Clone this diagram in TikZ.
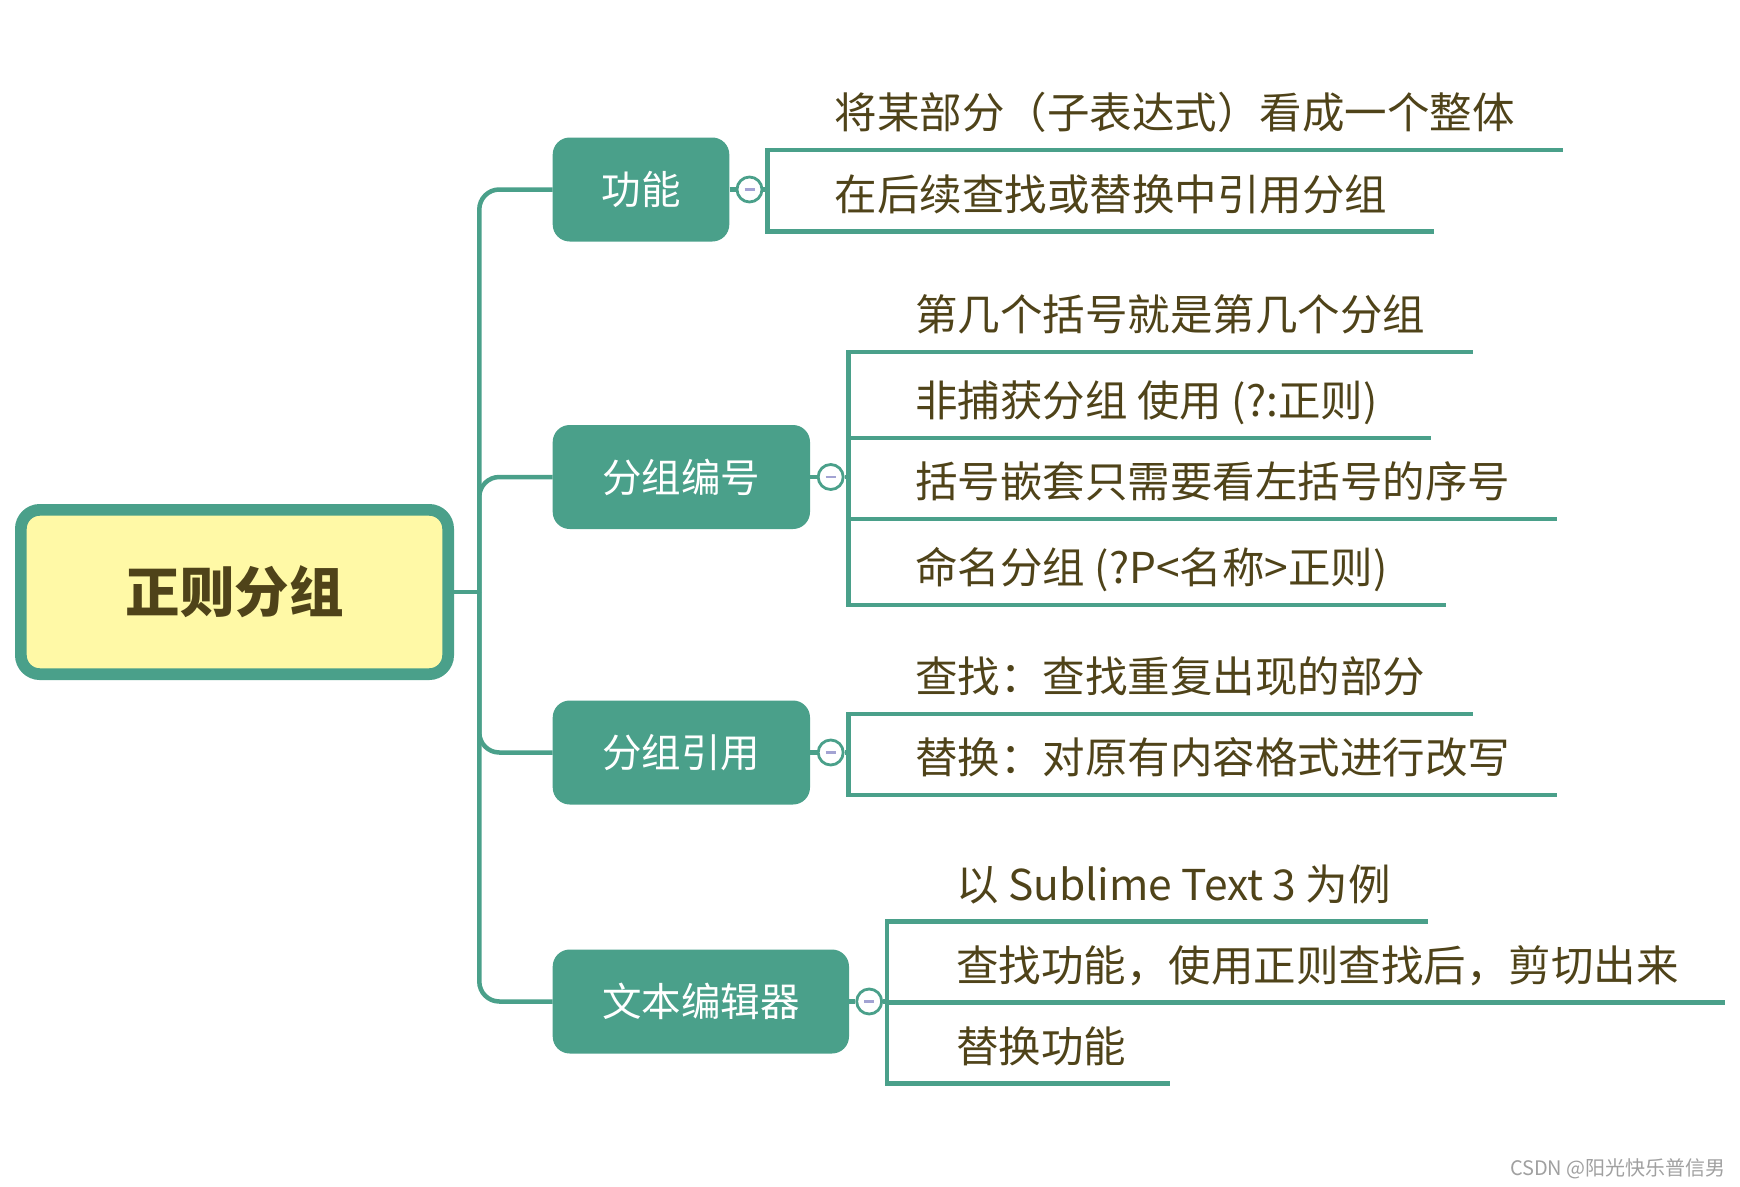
\documentclass[tikz,border=0pt]{standalone}
\usepackage{fontspec}
\setmainfont{Noto Sans CJK SC}
\definecolor{tealc}{HTML}{4AA08A}
\definecolor{inkc}{HTML}{4F4319}
\definecolor{rootfill}{HTML}{FFF9A6}
\definecolor{minusc}{HTML}{A3A3D3}
\definecolor{markc}{HTML}{A0A0A0}
\begin{document}
\begin{tikzpicture}[x=1pt,y=-1pt,
  rootbox/.style={draw=tealc, line width=11.7pt, fill=rootfill, rounded corners=19pt,
    minimum width=427.3pt, minimum height=164.3pt, inner sep=0pt, text=inkc,
    font=\fontsize{54.5}{60}\selectfont\bfseries},
  topic/.style={fill=tealc, rounded corners=17pt, minimum height=104pt, inner sep=0pt,
    text=white, font=\fontsize{39.5}{46}\selectfont},
  branch/.style={draw=tealc, line width=4.5pt, rounded corners=20pt},
  link/.style={draw=tealc, line width=4.5pt},
  fold/.style={circle, draw=tealc, line width=2.8pt, fill=white, minimum size=25pt, inner sep=0pt},
  minus/.style={draw=minusc, line width=2.5pt},
  leaf/.style={anchor=base west, inner sep=0pt, text=inkc, font=\fontsize{42.5}{50}\selectfont},
  uline/.style={draw=tealc, line width=4.5pt},
  wmark/.style={anchor=base east, inner sep=0pt, text=markc, font=\fontsize{20}{24}\selectfont}
]
\useasboundingbox (0,0) rectangle (1740,1186);

% root and main topics
\node[rootbox] (root) at (234.5,592) {正则分组};
\node[topic, minimum width=176.6pt] (gn) at (641,189.5) {功能};
\node[topic, minimum width=257.3pt] (bh) at (681.35,477) {分组编号};
\node[topic, minimum width=257.3pt] (yy) at (681.35,752.5) {分组引用};
\node[topic, minimum width=296.3pt] (bj) at (700.85,1001.5) {文本编辑器};

% trunk and branches
\coordinate (jn) at (479.3,592);
\draw[link] (root.east) -- (jn);
\draw[branch] (jn) |- (gn.west);
\draw[branch] (jn) |- (bh.west);
\draw[branch] (jn) |- (yy.west);
\draw[branch] (jn) |- (bj.west);

% fold circles and links to brackets
\node[fold] (f1) at ([xshift=20pt]gn.east) {};
\node[fold] (f2) at ([xshift=20.5pt]bh.east) {};
\node[fold] (f3) at ([xshift=20.5pt]yy.east) {};
\node[fold] (f4) at ([xshift=20pt]bj.east) {};
\coordinate (k1) at ([xshift=18pt]f1.center);
\coordinate (k2) at ([xshift=18pt]f2.center);
\coordinate (k3) at ([xshift=18pt]f3.center);
\coordinate (k4) at ([xshift=18pt]f4.center);
\foreach \t/\f/\k in {gn/f1/k1, bh/f2/k2, yy/f3/k3, bj/f4/k4}{
  \draw[link] (\t.east) -- (\f.west);
  \draw[link] (\f.east) -- (\k);
  \draw[minus] ([xshift=-5pt]\f.center) -- ([xshift=5pt]\f.center);
}

% group 1: 功能
\draw[uline] (1562.7,150) -- (k1 |- 0,150) -- (k1 |- 0,231.7) -- (1434,231.7);
\node[leaf] (a1) at (834.5,128.7) {将某部分（子表达式）看成一个整体};
\node[leaf] (a2) at (834.5,210.4) {在后续查找或替换中引用分组};

% group 2: 分组编号
\draw[uline] (1472.7,352) -- (k2 |- 0,352) -- (k2 |- 0,605) -- (1446,605);
\draw[uline] (k2 |- 0,438) -- (1430.7,438);
\draw[uline] (k2 |- 0,519) -- (1556.7,519);
\node[leaf] (b1) at (915,330.7) {第几个括号就是第几个分组};
\node[leaf] (b2) at (915,416.7) {非捕获分组 使用 (?:正则)};
\node[leaf] (b3) at (915,497.7) {括号嵌套只需要看左括号的序号};
\node[leaf] (b4) at (915,583.7) {命名分组 (?P<名称>正则)};

% group 3: 分组引用
\draw[uline] (1472.7,714) -- (k3 |- 0,714) -- (k3 |- 0,795) -- (1556.7,795);
\node[leaf] (c1) at (915,692.7) {查找：查找重复出现的部分};
\node[leaf] (c2) at (915,773.7) {替换：对原有内容格式进行改写};

% group 4: 文本编辑器
\draw[uline] (1427.7,921.7) -- (k4 |- 0,921.7) -- (k4 |- 0,1083.3) -- (1170,1083.3);
\draw[uline] (k4 |- 0,1002.7) -- (1725,1002.7);
\node[leaf] (d1) at (956,900.4) {以 Sublime Text 3 为例};
\node[leaf] (d2) at (956,981.4) {查找功能，使用正则查找后，剪切出来};
\node[leaf] (d3) at (956,1062) {替换功能};

% watermark
\node[wmark] (wm) at (1726,1175) {CSDN @阳光快乐普信男};
\end{tikzpicture}
\end{document}
